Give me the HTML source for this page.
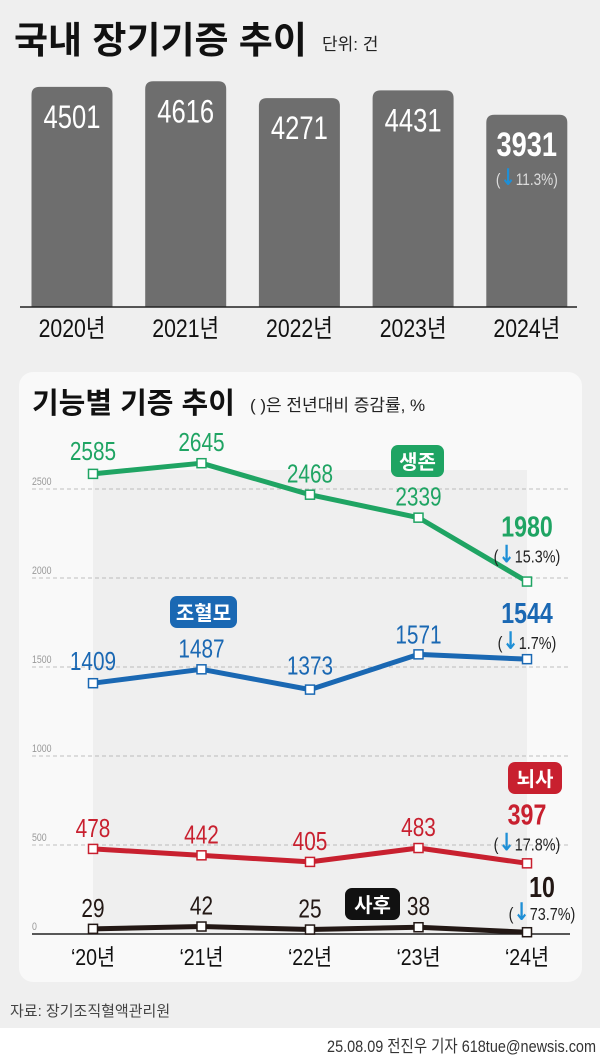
<!DOCTYPE html>
<html><head><meta charset="utf-8"><style>
html,body{margin:0;padding:0;background:#fff;}
svg{display:block;font-family:"Liberation Sans","Noto Sans CJK KR",sans-serif;}
</style></head><body>
<svg id="s" width="600" height="1060" viewBox="0 0 600 1060" xmlns="http://www.w3.org/2000/svg">
<rect x="0" y="0" width="600" height="1028" fill="#efefef"/>
<text x="14" y="53" font-size="37" font-weight="bold" fill="#111">국내 장기기증 추이</text>
<text x="322" y="50" font-size="17" fill="#222">단위: 건</text>
<g id="bars"></g>
<line x1="20" y1="307" x2="577" y2="307" stroke="#222" stroke-width="1.5"/>
<rect x="19" y="372" width="563" height="610" rx="14" fill="#f9f9f9"/>
<rect x="93" y="470" width="434" height="464" fill="#efefef"/>
<text x="32" y="413" font-size="29" font-weight="bold" fill="#111">기능별 기증 추이</text>
<text x="250" y="411" font-size="17" fill="#222">( )은 전년대비 증감률, %</text>
<g id="grid"></g>
<line x1="32" y1="934" x2="570" y2="934" stroke="#222" stroke-width="1.5"/>
<g id="lines"></g>
<g id="badges"></g>
<text x="10" y="1016" font-size="15" fill="#444">자료: 장기조직혈액관리원</text>
<text x="596" y="1052" font-size="17" fill="#333" text-anchor="end" transform="translate(596,0) scale(0.85,1) translate(-596,0)">25.08.09 전진우 기자 618tue@newsis.com</text>
</svg>
<script>
const barYears=['2020년','2021년','2022년','2023년','2024년'];
const barValues=[4501,4616,4271,4431,3931];
const barChange='11.3%';
const years=["‘20년","‘21년","‘22년","‘23년","‘24년"];
const survival=[2585,2645,2468,2339,1980];
const marrow=[1409,1487,1373,1571,1544];
const brainDeath=[478,442,405,483,397];
const postMortem=[29,42,25,38,10];
const changes=['15.3%','1.7%','17.8%','73.7%'];
const yTicks=[0,500,1000,1500,2000,2500];

const NS='http://www.w3.org/2000/svg';
function mk(tag,attrs,parent){const e=document.createElementNS(NS,tag);for(const k in attrs)e.setAttribute(k,attrs[k]);parent.appendChild(e);return e;}
function txt(parent,x,y,s,size,fill,bold,sx){const t=mk('text',{x:x,y:y,'font-size':size,fill:fill,'text-anchor':'middle','font-weight':bold?'bold':'normal',transform:`translate(${x},0) scale(${sx||0.82},1) translate(${-x},0)`},parent);t.textContent=s;return t;}
function pct(parent,x,y,s,size,fill){const t=mk('text',{x:x,y:y,'font-size':size,fill:fill,'text-anchor':'middle',transform:`translate(${x},0) scale(0.8,1) translate(${-x},0)`},parent);
 const a=document.createElementNS(NS,'tspan');a.textContent='(';t.appendChild(a);
 const b=document.createElementNS(NS,'tspan');b.setAttribute('fill','#1e8fd6');b.setAttribute('font-weight','bold');b.setAttribute('font-size',size*1.35);b.setAttribute('font-family','DejaVu Sans, sans-serif');b.textContent='↓';t.appendChild(b);
 const c=document.createElementNS(NS,'tspan');c.textContent=s+')';t.appendChild(c);return t;}

// bar chart
const bx=i=>72+i*113.7, by=v=>307-v*0.0489;
const bars=document.getElementById('bars');
barValues.forEach((v,i)=>{
 const x=bx(i),top=by(v),w=81;
 const p=mk('path',{d:`M${x-w/2},307 V${top+8} Q${x-w/2},${top} ${x-w/2+8},${top} H${x+w/2-8} Q${x+w/2},${top} ${x+w/2},${top+8} V307 Z`,fill:'#6e6e6e'},bars);
 
 
 const last=i===barValues.length-1;
 const t=txt(bars,x,top+41,String(v),last?34:32,'#fff',last,0.8);
 
 
 if(last){const q=pct(bars,x,top+70,barChange,17,'#ddd');}
 const l=txt(bars,x,337,barYears[i],25,'#111',false,0.85);
 
 
});

// line chart
const lx=i=>93+i*108.5, ly=v=>934-v*0.178;
const grid=document.getElementById('grid');
yTicks.forEach(v=>{
 if(v>0){const g=mk('line',{x1:32,x2:570,y1:ly(v),y2:ly(v),stroke:'#aaa','stroke-dasharray':'4,3','stroke-width':0.8},grid);
 
 }
 const t=mk('text',{x:32,y:ly(v)-4,'font-size':11,fill:'#999',transform:`translate(32,0) scale(0.8,1) translate(-32,0)`},grid);t.textContent=String(v);
 
 
});
years.forEach((s,i)=>{const t=txt(grid,lx(i),965,s,23,'#111',false,0.85);
 
 });

const series=[
 {name:'survival',data:survival,color:'#1fa463',off:[14,12,12,12],lastOff:45,pctOff:19},
 {name:'marrow',data:marrow,color:'#1a68b3',off:[13,12,15,11],lastOff:36,pctOff:12},
 {name:'brain-death',data:brainDeath,color:'#c8202f',off:[12,12,12,12],lastOff:39,pctOff:15},
 {name:'post-mortem',data:postMortem,color:'#231815',off:[12,12,12,12],lastOff:35,pctOff:12}
];
const lines=document.getElementById('lines');
series.forEach((s,si)=>{
 const pts=s.data.map((v,i)=>lx(i)+','+ly(v)).join(' ');
 const pl=mk('polyline',{points:pts,fill:'none',stroke:s.color,'stroke-width':5,'stroke-linejoin':'round'},lines);
 
 
 s.data.forEach((v,i)=>{
  const r=mk('rect',{x:lx(i)-4.5,y:ly(v)-4.5,width:9,height:9,fill:'#fff',stroke:s.color,'stroke-width':1.5},lines);
  
  
  const last=i===s.data.length-1;
  let t;
  if(!last){t=txt(lines,lx(i),ly(v)-s.off[i],String(v),26,s.color,false,0.8);}
  else{const x=si===3?542:lx(i);t=txt(lines,x,ly(v)-s.lastOff,String(v),29,s.color,true,0.8);
   const q=pct(lines,x,ly(v)-s.lastOff+(si===3?23:26),changes[si],18,'#222');
   
   }
  
  
 });
});

const badges=[['생존',391,445,53,'#1fa463'],['조혈모',170,596,67,'#1a68b3'],['뇌사',508,762,54,'#c8202f'],['사후',345,888,55,'#111']];
const bg=document.getElementById('badges');
badges.forEach(b=>{
 const r=mk('rect',{x:b[1],y:b[2],width:b[3],height:32,rx:7,fill:b[4]},bg);
 
 
 const t=mk('text',{x:b[1]+b[3]/2,y:b[2]+24,'font-size':20,'font-weight':'bold',fill:'#fff','text-anchor':'middle'},bg);t.textContent=b[0];
 
 
});
</script>
</body></html>
